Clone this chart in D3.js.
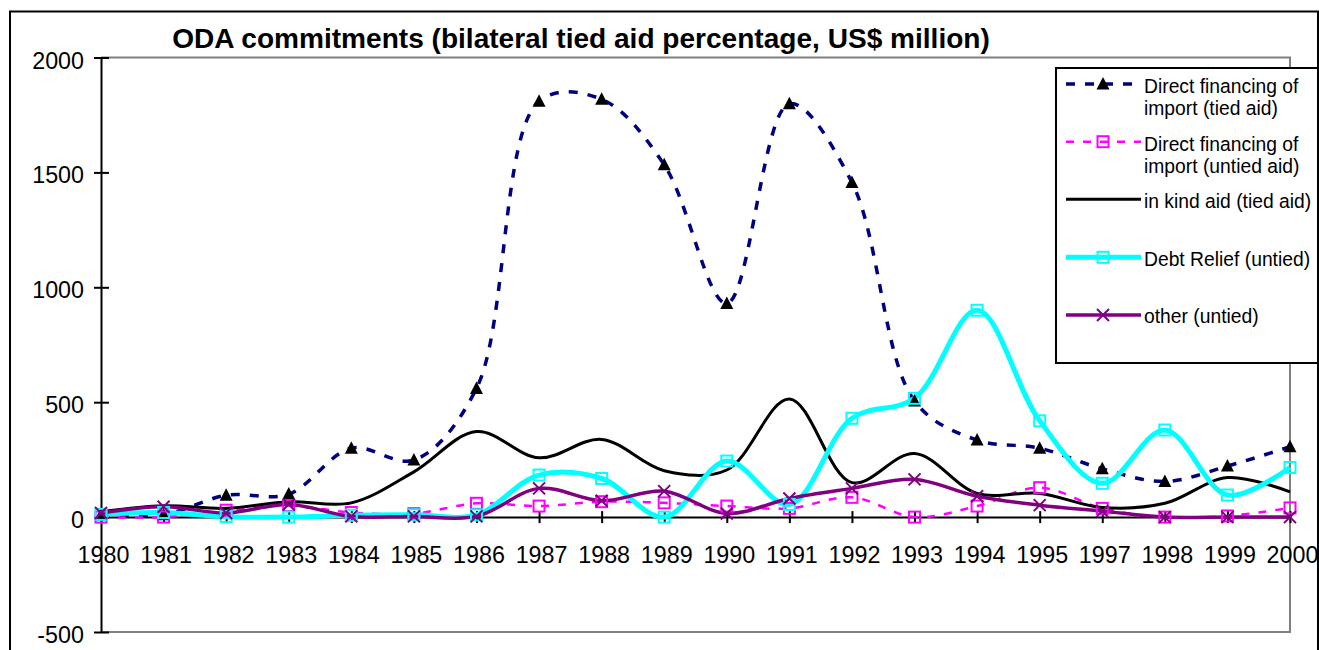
<!DOCTYPE html>
<html>
<head>
<meta charset="utf-8">
<script src="https://cdn.jsdelivr.net/npm/d3@7"></script>
<style>
  html, body { margin: 0; padding: 0; background: #fff; }
  svg { display: block; font-family: "Liberation Sans", Arial, sans-serif; }
</style>
</head>
<body>
<svg id="chart" width="1319" height="650"></svg>
<script>
// Categories (1996 is absent in the source table)
const years = ["1980","1981","1982","1983","1984","1985","1986","1987","1988","1989",
               "1990","1991","1992","1993","1994","1995","1997","1998","1999","2000"];

// US$ million
const tiedImport   = [10, 10, 95, 100, 300, 248, 560, 1810, 1818, 1533, 930, 1799, 1456, 505, 335, 300, 210, 155, 222, 306];
const untiedImport = [0, 0, 30, 50, 20, 15, 60, 48, 67, 62, 48, 38, 86, 0, 48, 128, 38, 0, 5, 40];
const inKindAid    = [23, 49, 38, 67, 62, 197, 372, 258, 338, 202, 205, 514, 150, 277, 103, 103, 42, 60, 172, 110];
const debtRelief   = [12, 20, 2, 0, 8, 10, 10, 183, 168, 0, 244, 55, 430, 517, 900, 419, 147, 379, 96, 216];
const otherUntied  = [18, 45, 18, 55, 3, 3, 3, 125, 71, 113, 16, 81, 125, 164, 91, 52, 26, 0, 0, 0];

const yTicks = [-500, 0, 500, 1000, 1500, 2000];
const titleText = "ODA commitments (bilateral tied aid percentage, US$ million)";

const series = [
  { name: ["Direct financing of", "import (tied aid)"], values: tiedImport,
    color: "#000080", width: 3.5, dash: "9,10", marker: "triangle" },
  { name: ["Direct financing of", "import (untied aid)"], values: untiedImport,
    color: "#FF00FF", width: 2.5, dash: "8,9", marker: "square-magenta" },
  { name: ["in kind aid (tied aid)"], values: inKindAid,
    color: "#000000", width: 3, dash: null, marker: null },
  { name: ["Debt Relief (untied)"], values: debtRelief,
    color: "#00FFFF", width: 5, dash: null, marker: "square-cyan" },
  { name: ["other (untied)"], values: otherUntied,
    color: "#800080", width: 3.5, dash: null, marker: "cross" }
];

const svg = d3.select("#chart");
const FONT = "Liberation Sans, Arial, sans-serif";

// Outer chart frame
svg.append("rect")
  .attr("x", 10).attr("y", 11.5).attr("width", 1308).attr("height", 700)
  .attr("fill", "#fff").attr("stroke", "#000").attr("stroke-width", 2);

const x = d3.scalePoint().domain(years).range([101, 1290]);
const y = d3.scaleLinear().domain([-500, 2000]).range([632, 57.5]);

const plotLeft = 101, plotRight = 1290, plotTop = y(2000), plotBottom = y(-500);

// Plot area border (grey top / right / bottom)
svg.append("path")
  .attr("d", `M${plotLeft},${plotTop}H${plotRight}V${plotBottom}H${plotLeft}`)
  .attr("fill", "none").attr("stroke", "#808080").attr("stroke-width", 2);

// Title, fitted to its width
const title = svg.append("text")
  .attr("x", 581).attr("y", 47.5)
  .attr("text-anchor", "middle")
  .attr("font-weight", "bold")
  .attr("font-size", 20)
  .attr("fill", "#000")
  .text(titleText);
const tw = title.node().getComputedTextLength();
title.attr("font-size", 20 * 818 / tw);

// Y axis (plain hyphen for negatives)
const yAxis = svg.append("g")
  .attr("transform", `translate(${plotLeft},0)`)
  .call(d3.axisLeft(y).tickValues(yTicks).tickFormat(d => String(d)).tickSizeOuter(0));
yAxis.select(".domain").attr("stroke", "#000").attr("stroke-width", 2);
yAxis.selectAll(".tick line").attr("x1", -7).attr("x2", 8).attr("stroke", "#000").attr("stroke-width", 2);
yAxis.selectAll(".tick text")
  .attr("x", -17).attr("dy", 0).attr("y", 10.5)
  .attr("font-size", 23.3).attr("font-family", FONT).attr("fill", "#000");

// X axis along zero
const xAxis = svg.append("g")
  .attr("transform", `translate(0,${y(0)})`)
  .call(d3.axisBottom(x).tickSizeOuter(0));
xAxis.select(".domain").attr("stroke", "#000").attr("stroke-width", 2);
xAxis.selectAll(".tick line").attr("y1", -6).attr("y2", 6).attr("stroke", "#000").attr("stroke-width", 2);
xAxis.selectAll(".tick text")
  .attr("y", 45.5).attr("dy", 0).attr("dx", 2)
  .attr("font-size", 23.3).attr("font-family", FONT).attr("fill", "#000");

// Smoothed series lines
const line = d3.line()
  .x((d, i) => x(years[i]))
  .y(d => y(d))
  .curve(d3.curveCatmullRom.alpha(0.5));

const linesG = svg.append("g");
series.forEach(s => {
  linesG.append("path")
    .datum(s.values)
    .attr("d", line)
    .attr("fill", "none")
    .attr("stroke", s.color)
    .attr("stroke-width", s.width)
    .attr("stroke-dasharray", s.dash)
    .attr("stroke-linejoin", "round");
});

// Marker shapes
function drawMarker(g, type, cx, cy) {
  if (type === "triangle") {
    g.append("path")
      .attr("d", `M${cx},${cy - 7}L${cx + 6.5},${cy + 5.5}L${cx - 6.5},${cy + 5.5}Z`)
      .attr("fill", "#000");
  } else if (type === "square-magenta" || type === "square-cyan") {
    const col = type === "square-magenta" ? "#FF00FF" : "#00FFFF";
    g.append("rect")
      .attr("x", cx - 5.5).attr("y", cy - 5.5).attr("width", 11).attr("height", 11)
      .attr("fill", "none").attr("stroke", col).attr("stroke-width", 2);
  } else if (type === "cross") {
    g.append("path")
      .attr("d", `M${cx - 6},${cy - 6}L${cx + 6},${cy + 6}M${cx + 6},${cy - 6}L${cx - 6},${cy + 6}`)
      .attr("stroke", "#800080").attr("stroke-width", 2).attr("fill", "none");
  }
}

const markersG = svg.append("g");
series.forEach(s => {
  if (!s.marker) return;
  s.values.forEach((v, i) => drawMarker(markersG, s.marker, x(years[i]), y(v)));
});

// Legend
const legend = svg.append("g");
legend.append("rect")
  .attr("x", 1056).attr("y", 68).attr("width", 262).attr("height", 295)
  .attr("fill", "#fff").attr("stroke", "#000").attr("stroke-width", 2);

const legendRows = [
  { sym: 84, base: 92.7 },
  { sym: 141.7, base: 150.7 },
  { sym: 199.3, base: 207.7 },
  { sym: 257.3, base: 265.7 },
  { sym: 315, base: 323.3 }
];

series.forEach((s, i) => {
  const r = legendRows[i];
  legend.append("line")
    .attr("x1", 1066).attr("x2", 1141)
    .attr("y1", r.sym).attr("y2", r.sym)
    .attr("stroke", s.color).attr("stroke-width", s.width)
    .attr("stroke-dasharray", s.dash);
  if (s.marker) drawMarker(legend, s.marker, 1103, r.sym);
  const t = legend.append("text")
    .attr("x", 1144).attr("y", r.base)
    .attr("font-size", 19.3).attr("fill", "#000");
  s.name.forEach((ln, j) => {
    t.append("tspan").attr("x", 1144).attr("dy", j === 0 ? 0 : 22).text(ln);
  });
});
</script>
</body>
</html>
